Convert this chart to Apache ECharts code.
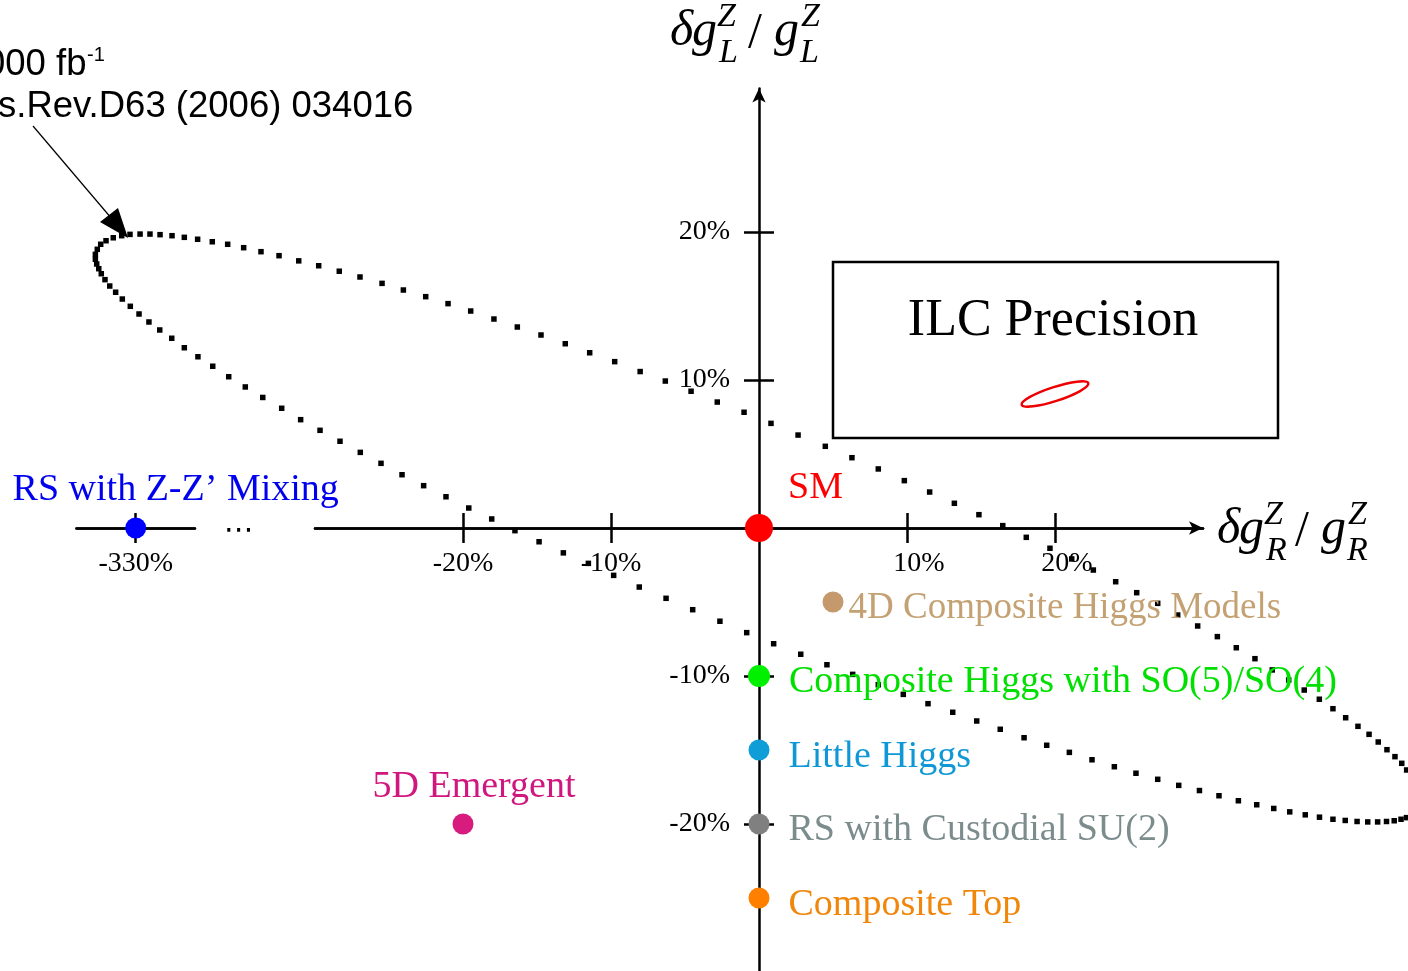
<!DOCTYPE html>
<html><head><meta charset="utf-8">
<script src="https://cdn.jsdelivr.net/npm/echarts@6/dist/echarts.min.js"></script>
<style>html,body{margin:0;padding:0;background:#fff}#c{width:1408px;height:971px}</style>
</head><body><div id="c"></div>
<script>
// ---------------- DATA ----------------
// Dotted contour (RS model, Phys.Rev.D63 (2006) 034016), values in %
const ellipseR = [43.76,43.43,42.97,42.43,41.84,41.22,40.47,39.64,38.78,37.86,36.84,35.79,34.68,33.51,32.25,30.97,29.64,28.29,26.94,25.52,24.10,22.59,21.13,19.66,18.06,16.47,14.86,13.20,11.53,9.82,8.06,6.28,4.48,2.64,0.81,-1.01,-2.82,-4.59,-6.33,-8.03,-9.75,-11.44,-13.09,-14.73,-16.33,-17.91,-19.48,-21.01,-22.52,-24.03,-25.47,-26.96,-28.36,-29.75,-31.10,-32.43,-33.65,-34.82,-35.90,-36.94,-37.93,-38.83,-39.66,-40.47,-41.15,-41.82,-42.50,-43.06,-43.63,-44.12,-44.48,-44.71,-44.84,-44.84,-44.75,-44.61,-44.44,-44.19,-43.87,-43.47,-43.02,-42.48,-41.89,-41.22,-40.49,-39.68,-38.83,-37.91,-36.91,-35.83,-34.71,-33.53,-32.25,-30.97,-29.66,-28.31,-26.94,-25.54,-24.12,-22.66,-21.15,-19.61,-18.06,-16.49,-14.86,-13.22,-11.53,-9.82,-8.09,-6.28,-4.48,-2.64,-0.83,0.99,2.82,4.59,6.33,8.06,9.75,11.42,13.09,14.71,16.30,17.91,19.44,20.97,22.50,24.01,25.47,26.94,28.36,29.76,31.08,32.39,33.63,34.78,35.86,36.91,37.87,38.78,39.61,40.41,41.13,41.80,42.40,42.92,43.38,43.75];
const ellipseL = [-16.35,-15.90,-15.45,-14.98,-14.46,-13.94,-13.40,-12.82,-12.21,-11.57,-10.95,-10.27,-9.59,-8.83,-8.09,-7.34,-6.62,-5.88,-5.09,-4.37,-3.63,-2.84,-2.09,-1.37,-0.63,0.16,0.90,1.67,2.43,3.20,3.99,4.75,5.52,6.28,7.07,7.82,8.51,9.24,9.93,10.57,11.24,11.84,12.45,13.04,13.58,14.12,14.66,15.16,15.63,16.08,16.53,16.96,17.35,17.72,18.05,18.40,18.67,18.94,19.17,19.34,19.51,19.64,19.75,19.82,19.86,19.86,19.84,19.75,19.61,19.41,19.17,18.83,18.49,18.16,17.84,17.52,17.18,16.78,16.35,15.93,15.47,14.98,14.46,13.92,13.38,12.82,12.18,11.57,10.93,10.22,9.53,8.82,8.09,7.32,6.60,5.86,5.11,4.37,3.60,2.86,2.11,1.35,0.61,-0.18,-0.93,-1.68,-2.39,-3.20,-3.99,-4.75,-5.52,-6.30,-7.07,-7.82,-8.53,-9.24,-9.89,-10.59,-11.24,-11.87,-12.45,-13.04,-13.60,-14.17,-14.68,-15.16,-15.66,-16.13,-16.57,-16.98,-17.39,-17.74,-18.09,-18.43,-18.70,-18.95,-19.18,-19.38,-19.54,-19.68,-19.76,-19.83,-19.86,-19.86,-19.83,-19.78,-19.68,-19.57];

// Model predictions: δg_R/g_R (%), δg_L/g_L (%)
const modelNames = ['SM','4D Composite Higgs Models','Composite Higgs with SO(5)/SO(4)','Little Higgs','RS with Custodial SU(2)','Composite Top','5D Emergent'];
const modelR = [0, 5, 0, 0, 0, 0, -20];
const modelL = [0, -5, -10, -15, -20, -25, -20];
const rsMixName = ['RS with Z-Z\u2019 Mixing'];
const rsMixR = [-330];
const rsMixL = [0];

const xTickValues = [-20, -10, 10, 20];
const yTickValues = [-20, -10, 10, 20];
const brokenTickValues = [-330];

// ---------------- STYLE ----------------
const SERIF = "'Liberation Serif', 'DejaVu Serif', serif";
const SANS = "'Liberation Sans', Arial, sans-serif";
const LABEL_SIZE = 38;
const modelStyle = [
  {color:'#ff0000', text:'#ff0000', size:28, pos:'right', dist:15, off:[0,-40], fs:38},
  {color:'#c49a6c', text:'#c4a173', size:21, pos:'right', dist:5, off:[0,6], fs:37},
  {color:'#00f000', text:'#00e000', size:22, pos:'right', dist:19, off:[0,6], fs:38},
  {color:'#0f9dd8', text:'#1098d6', size:21, pos:'right', dist:19, off:[0,7], fs:38},
  {color:'#808080', text:'#7c8c8c', size:21, pos:'right', dist:19, off:[0,6], fs:38},
  {color:'#ff8000', text:'#f0860a', size:21, pos:'right', dist:19, off:[0,7], fs:38},
  {color:'#d81b7e', text:'#d0177f', size:21, pos:'top', dist:7, off:[11,0], fs:38}
];

const PX = 14.8; // px per %
const X0 = 759, Y0 = 528;
const xMin = -30, xMax = 30, yMin = -30, yMax = 29.7;
const gridTop = Y0 - yMax*PX, gridH = (yMax-yMin)*PX;
const gridLeft = X0 + xMin*PX, gridW = (xMax-xMin)*PX;
// offsets that put the axes through the origin (0,0)
const offBottom = -(gridTop + gridH - Y0);
const offTop = -(Y0 - gridTop);
const offLeft = -(X0 - gridLeft);
const offRight = -(gridLeft + gridW - X0);

const chart = echarts.init(document.getElementById('c'), null, {renderer:'canvas'});

const axisLineStyle = {color:'#000', width:2.5};
const tickStyle = {color:'#000', width:2.5};
const labelFont = {fontFamily:SERIF, fontSize:28, color:'#000'};

function mathTitle(x0, base, sub) {
  const S = 50, s = 34;
  const mk = (t, dx, b, size, italic) => ({
    type:'text', x:x0+dx, y:b - 0.3*size, z:50,
    style:{text:t, fontFamily:SERIF, fontSize:size, fontStyle: italic ? 'italic' : 'normal', fill:'#000', verticalAlign:'middle', align:'left'}
  });
  return [
    mk('\u03b4', 0, base, S, true),
    mk('g', 22, base, S, true),
    mk('Z', 47, base-20, s, true),
    mk(sub, 49, base+16, s, true),
    mk('/', 78, base+2, S, false),
    mk('g', 104, base, S, true),
    mk('Z', 131, base-20, s, true),
    mk(sub, 130, base+16, s, true)
  ];
}

const graphics = [
  // broken-axis ellipsis
  {type:'text', x:239, y:531, z:50, style:{text:'\u22ef', fontFamily:"'DejaVu Sans'", fontSize:30, fill:'#000', align:'center', verticalAlign:'middle'}},
  // ILC precision box
  {type:'rect', z:40, shape:{x:833, y:262, width:445, height:176}, style:{fill:'#fff', stroke:'#000', lineWidth:2.5}},
  {type:'text', x:1053, y:321, z:50, style:{text:'ILC Precision', fontFamily:SERIF, fontSize:52, fill:'#000', align:'center', verticalAlign:'middle'}},
  {type:'ellipse', x:1055, y:394, rotation:18*Math.PI/180, z:50, shape:{cx:0, cy:0, rx:35, ry:7}, style:{fill:'none', stroke:'#ee0000', lineWidth:2.5}},
  // annotation
  {type:'text', x:-15, y:76 - 0.3*36.5, z:50, style:{text:'000 fb', fontFamily:SANS, fontSize:36.5, fill:'#000', verticalAlign:'middle'}},
  {type:'text', x:87, y:61 - 0.3*20, z:50, style:{text:'-1', fontFamily:SANS, fontSize:20, fill:'#000', verticalAlign:'middle'}},
  {type:'text', x:-2, y:118 - 0.3*36.5, z:50, style:{text:'s.Rev.D63 (2006) 034016', fontFamily:SANS, fontSize:36.5, fill:'#000', verticalAlign:'middle'}},
  {type:'line', z:50, shape:{x1:33, y1:126, x2:112, y2:219}, style:{stroke:'#000', lineWidth:1.2}},
  {type:'polygon', z:50, shape:{points:[[128,238],[100,222],[118,208]]}, style:{fill:'#000'}}
].concat(mathTitle(670, 47, 'L'), mathTitle(1217, 545, 'R'));

const option = {
  animation:false,
  backgroundColor:'#fff',
  grid:[
    {left:gridLeft, width:gridW, top:gridTop, height:gridH, outerBoundsMode:'none', containLabel:false},
    {left:135.7 - 4*PX, width:8*PX, top:gridTop, height:gridH, outerBoundsMode:'none', containLabel:false}
  ],
  xAxis:[
    {gridIndex:0, type:'value', min:xMin, max:xMax, position:'bottom', offset:offBottom,
     axisLine:{show:true, onZero:false, symbol:['none','arrow'], symbolSize:[10,14], lineStyle:axisLineStyle},
     axisTick:{show:true, customValues:xTickValues, length:15, lineStyle:tickStyle},
     axisLabel:{show:true, customValues:xTickValues, margin:22, ...labelFont,
       formatter:v => v > 0 ? '{p|' + v + '%}' : v + '%',
       rich:{p:{...labelFont, padding:[0,0,0,24]}}},
     splitLine:{show:false}},
    {gridIndex:0, type:'value', min:xMin, max:xMax, position:'top', offset:offTop,
     axisLine:{show:true, onZero:false, lineStyle:axisLineStyle},
     axisTick:{show:true, customValues:xTickValues, length:15, lineStyle:tickStyle},
     axisLabel:{show:false}, splitLine:{show:false}},
    {gridIndex:1, type:'value', min:-334, max:-326, position:'bottom', offset:offBottom,
     axisLine:{show:true, onZero:false, lineStyle:axisLineStyle},
     axisTick:{show:true, customValues:brokenTickValues, length:15, lineStyle:tickStyle},
     axisLabel:{show:true, customValues:brokenTickValues, margin:22, ...labelFont, formatter:v => v + '%'},
     splitLine:{show:false}},
    {gridIndex:1, type:'value', min:-334, max:-326, position:'top', offset:offTop,
     axisLine:{show:true, onZero:false, lineStyle:axisLineStyle},
     axisTick:{show:true, customValues:brokenTickValues, length:15, lineStyle:tickStyle},
     axisLabel:{show:false}, splitLine:{show:false}}
  ],
  yAxis:[
    {gridIndex:0, type:'value', min:yMin, max:yMax, position:'left', offset:offLeft,
     axisLine:{show:true, onZero:false, symbol:['none','arrow'], symbolSize:[10,14], lineStyle:axisLineStyle},
     axisTick:{show:true, customValues:yTickValues, length:15, lineStyle:tickStyle},
     axisLabel:{show:true, customValues:yTickValues, margin:29, ...labelFont, formatter:v => v + '%'},
     splitLine:{show:false}},
    {gridIndex:0, type:'value', min:yMin, max:yMax, position:'right', offset:offRight,
     axisLine:{show:false, onZero:false},
     axisTick:{show:true, customValues:yTickValues, length:15, lineStyle:tickStyle},
     axisLabel:{show:false}, splitLine:{show:false}},
    {gridIndex:1, type:'value', min:yMin, max:yMax, show:false}
  ],
  series:[
    {type:'scatter', xAxisIndex:0, yAxisIndex:0, clip:false, silent:true, z:3,
     symbol:'rect', symbolSize:5.5, itemStyle:{color:'#000', opacity:1},
     data: ellipseR.map((r, i) => [r, ellipseL[i]])},
    {type:'scatter', xAxisIndex:0, yAxisIndex:0, clip:false, silent:true, z:5,
     symbol:'circle',
     data: modelNames.map((n, i) => {
       const st = modelStyle[i];
       return {name:n, value:[modelR[i], modelL[i]], symbolSize:st.size, itemStyle:{color:st.color, opacity:1},
         label:{show:true, formatter:'{b}', position:st.pos, distance:st.dist, offset:st.off,
                color:st.text, fontFamily:SERIF, fontSize:st.fs}};
     })},
    {type:'scatter', xAxisIndex:2, yAxisIndex:2, clip:false, silent:true, z:5,
     symbol:'circle',
     data: rsMixName.map((n, i) => ({name:n, value:[rsMixR[i], rsMixL[i]], symbolSize:21, itemStyle:{color:'#0000ff', opacity:1},
       label:{show:true, formatter:'{b}', position:'top', distance:8, offset:[40,0],
              color:'#0000ee', fontFamily:SERIF, fontSize:LABEL_SIZE}}))}
  ],
  graphic:{elements:graphics}
};
chart.setOption(option);
</script></body></html>
